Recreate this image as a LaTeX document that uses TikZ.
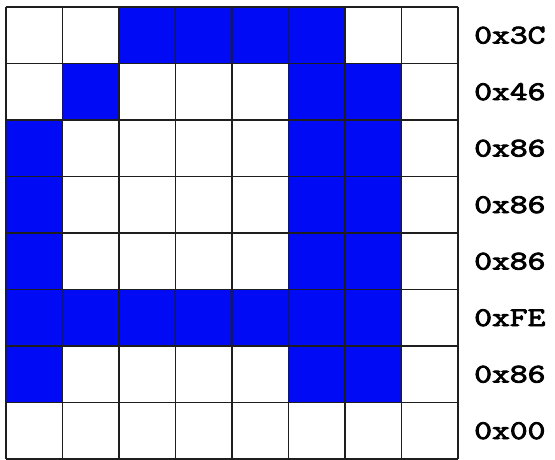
\documentclass[tikz,border=0pt]{standalone}
\usepackage{fontspec}
\newfontfamily\hexfont[FakeBold=3]{Latin Modern Mono}
\definecolor{pix}{RGB}{0,10,245}
\definecolor{gridline}{RGB}{30,30,30}
\tikzset{
  hexlabel/.style={anchor=west, inner sep=0pt, font=\hexfont\fontsize{27}{27}\selectfont, xscale=1.28}
}
\begin{document}
\begin{tikzpicture}[x=1pt,y=-1pt]
\useasboundingbox (0,0) rectangle (555,459);
\fill[white] (0,0) rectangle (555,459);
\def\cs{56.5}
\def\ox{6}
\def\oy{7}
% rows: list of on-columns
\foreach \r/\cols in {0/{2,3,4,5},1/{1,5,6},2/{0,5,6},3/{0,5,6},4/{0,5,6},5/{0,1,2,3,4,5,6},6/{0,5,6}}{
  \foreach \c in \cols {
    \fill[pix] ({\ox+\c*\cs},{\oy+\r*\cs}) rectangle ++(\cs,\cs);
  }
}
\foreach \i in {0,...,8}{
  \draw[gridline, line width=1.8pt] ({\ox+\i*\cs},\oy) -- ({\ox+\i*\cs},{\oy+8*\cs});
  \draw[gridline, line width=1.8pt] (\ox,{\oy+\i*\cs}) -- ({\ox+8*\cs},{\oy+\i*\cs});
}
\foreach \r/\t in {0/0x3C,1/0x46,2/0x86,3/0x86,4/0x86,5/0xFE,6/0x86,7/0x00}{
  \node[hexlabel] (lab\r) at (474,{\oy+\r*\cs+\cs/2}) {\t};
}
\end{tikzpicture}
\end{document}
